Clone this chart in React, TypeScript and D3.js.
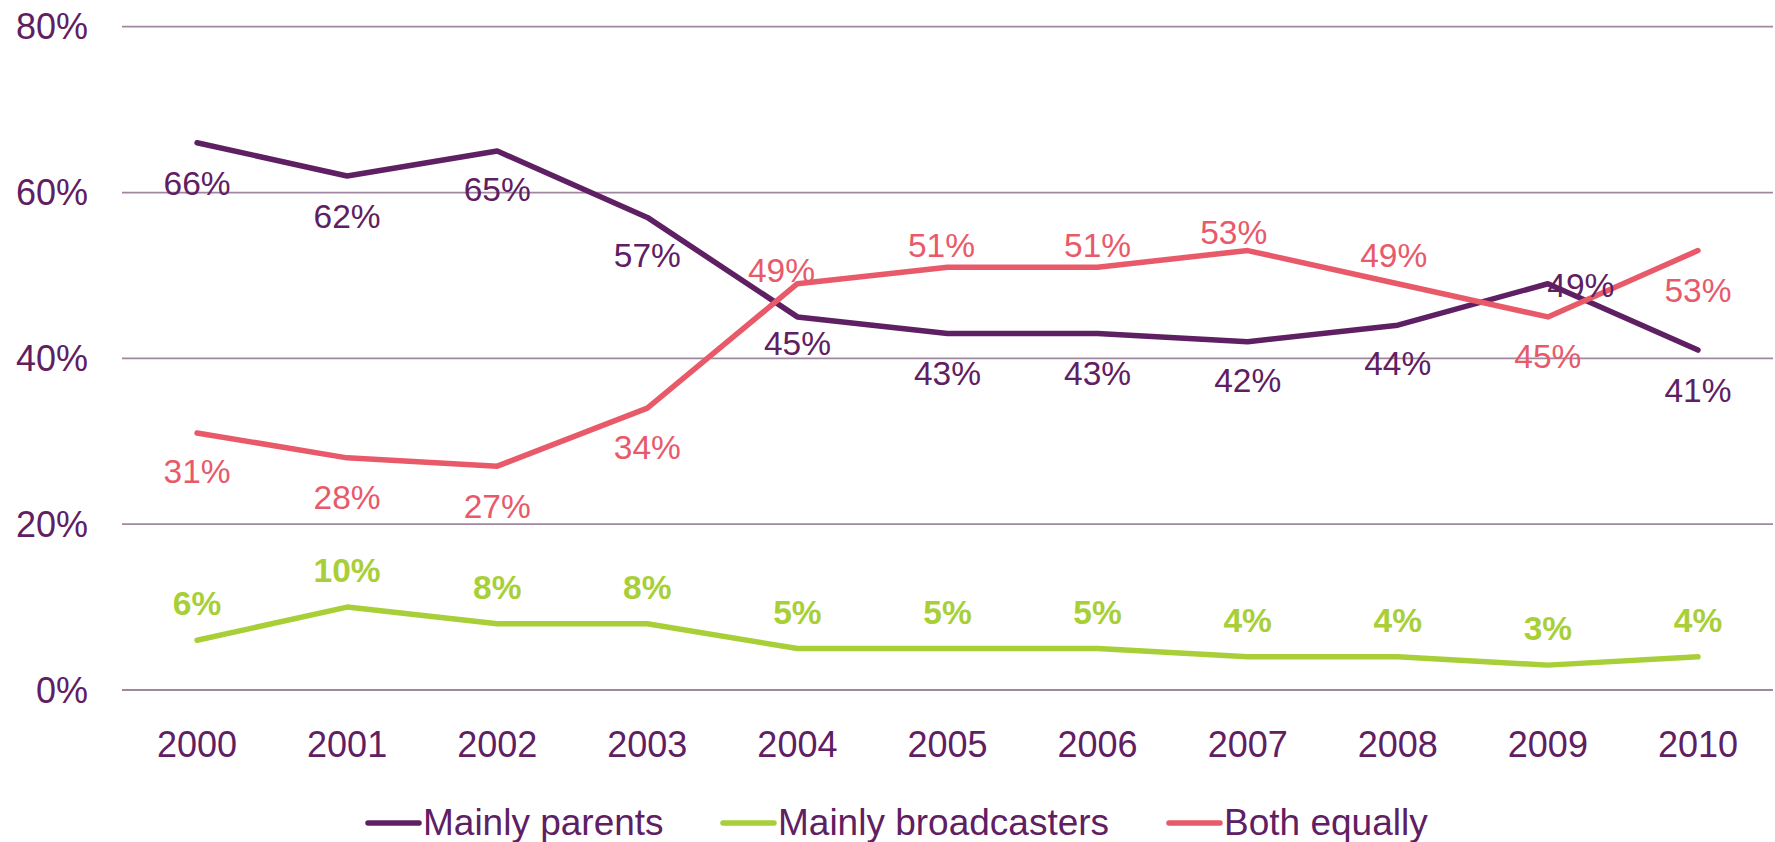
import React from "react";
import * as d3 from "d3";

const years = ["2000","2001","2002","2003","2004","2005","2006","2007","2008","2009","2010"];
const mainlyParents = [66, 62, 65, 57, 45, 43, 43, 42, 44, 49, 41];
const mainlyBroadcasters = [6, 10, 8, 8, 5, 5, 5, 4, 4, 3, 4];
const bothEqually = [31, 28, 27, 34, 49, 51, 51, 53, 49, 45, 53];
const yTicks = [0, 20, 40, 60, 80];

// label offsets (layout only): [dx, dy to baseline]
const parentsLabelOffsets: [number, number][] = [
  [0, 52], [0, 52], [0, 50], [0, 50], [0, 38], [0, 52], [0, 52], [0, 50], [0, 50], [33, 13], [0, 52],
];
const bothLabelOffsets: [number, number][] = [
  [0, 50], [0, 51], [0, 52], [0, 51], [-16, -2], [-6, -10], [0, -10], [-14, -7], [-4, -17], [0, 51], [0, 51],
];
const broadLabelOffsets: [number, number][] = years.map(() => [0, -25]);

const PURPLE = "#5F2063";
const GREEN = "#A8CF38";
const RED = "#E85A6A";
const GRID = "#9F889F";
const FONT = "'Liberation Sans', Arial, sans-serif";

export default function App() {
  const W = 1775, H = 842;
  const x = d3.scalePoint<string>().domain(years).range([122, 1773]).padding(0.5);
  const y = d3.scaleLinear().domain([0, 80]).range([690, 26.7]);

  const line = d3.line<number>()
    .x((_, i) => x(years[i]) as number)
    .y((d) => y(d));

  const series = [
    { name: "Mainly parents", values: mainlyParents, color: PURPLE, offsets: parentsLabelOffsets, bold: false },
    { name: "Mainly broadcasters", values: mainlyBroadcasters, color: GREEN, offsets: broadLabelOffsets, bold: true },
    { name: "Both equally", values: bothEqually, color: RED, offsets: bothLabelOffsets, bold: false },
  ];

  const legendItems = [
    { name: "Mainly parents", color: PURPLE, x: 366 },
    { name: "Mainly broadcasters", color: GREEN, x: 721 },
    { name: "Both equally", color: RED, x: 1167 },
  ];

  return (
    <svg width={W} height={H} style={{ position: "absolute", left: 0, top: 0, background: "#fff" }} fontFamily={FONT}>
      <rect width={W} height={H} fill="#fff" />
      {yTicks.map((t) => (
        <g key={t}>
          <line x1={122} x2={1773} y1={y(t)} y2={y(t)} stroke={GRID} strokeWidth={1.8} />
          <text x={88} y={y(t)} dy="0.35em" textAnchor="end" fontSize={36} fill={PURPLE}>{t}%</text>
        </g>
      ))}
      {years.map((yr) => (
        <text key={yr} x={x(yr) as number} y={757} textAnchor="middle" fontSize={36} fill={PURPLE}>{yr}</text>
      ))}
      {series.map((s) => (
        <path key={s.name} d={line(s.values) || ""} fill="none" stroke={s.color} strokeWidth={5.5}
          strokeLinecap="round" strokeLinejoin="round" />
      ))}
      {series.map((s) => (
        <g key={s.name + "-labels"}>
          {s.values.map((v, i) => (
            <text key={i} x={(x(years[i]) as number) + s.offsets[i][0]} y={y(v) + s.offsets[i][1]}
              textAnchor="middle" fontSize={33.5} fontWeight={s.bold ? "bold" : "normal"} fill={s.color}>
              {v}%
            </text>
          ))}
        </g>
      ))}
      {legendItems.map((l) => (
        <g key={l.name}>
          <line x1={l.x + 2} x2={l.x + 53} y1={823} y2={823} stroke={l.color} strokeWidth={5.5} strokeLinecap="round" />
          <text x={l.x + 57} y={835} fontSize={37} fill={PURPLE}>{l.name}</text>
        </g>
      ))}
    </svg>
  );
}
